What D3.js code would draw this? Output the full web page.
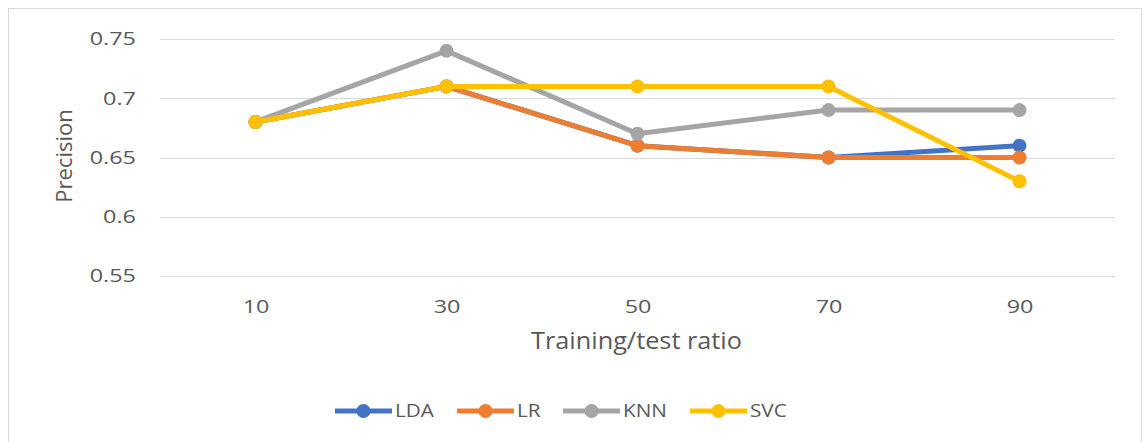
<!DOCTYPE html>
<html>
<head>
<meta charset="utf-8">
<script src="https://cdn.jsdelivr.net/npm/d3@7"></script>
<style>
  html, body { margin: 0; padding: 0; background: #fff; }
  svg { display: block; font-family: "Open Sans", "Noto Sans", sans-serif; }
</style>
</head>
<body>
<svg id="chart" width="1148" height="442"></svg>
<script>
// Training/test split ratios on the x axis
const ratios = ["10", "30", "50", "70", "90"];
// Precision per classifier
const lda = [0.68, 0.71, 0.66, 0.65, 0.66];
const lr  = [0.68, 0.71, 0.66, 0.65, 0.65];
const knn = [0.68, 0.74, 0.67, 0.69, 0.69];
const svc = [0.68, 0.71, 0.71, 0.71, 0.63];
const seriesNames = ["LDA", "LR", "KNN", "SVC"];
const yTicks = [0.55, 0.6, 0.65, 0.7, 0.75];

const series = [
  { name: "LDA", values: lda, color: "#4472C4" },
  { name: "LR",  values: lr,  color: "#ED7D31" },
  { name: "KNN", values: knn, color: "#A5A5A5" },
  { name: "SVC", values: svc, color: "#FFC000" }
];

const svg = d3.select("#chart");
const textColor = "#595959";
const font = "'Open Sans', 'Noto Sans', sans-serif";

// chart area frame
svg.append("rect")
  .attr("x", 8.5).attr("y", 8.5)
  .attr("width", 1133).attr("height", 440)
  .attr("fill", "#fff").attr("stroke", "#d9d9d9").attr("stroke-width", 1);

const plot = { left: 160, right: 1115, top: 39, bottom: 276 };

const x = d3.scalePoint().domain(ratios).range([plot.left, plot.right]).padding(0.5);
const y = d3.scaleLinear().domain([0.55, 0.75]).range([plot.bottom, plot.top]);

// horizontal gridlines
svg.append("g")
  .selectAll("line")
  .data(yTicks)
  .join("line")
  .attr("x1", plot.left).attr("x2", plot.right)
  .attr("y1", d => Math.round(y(d)) + 0.5).attr("y2", d => Math.round(y(d)) + 0.5)
  .attr("stroke", "#d9d9d9").attr("stroke-width", 1);

// y axis labels (slightly widened glyphs)
const yAxis = d3.axisLeft(y).tickValues(yTicks).tickSize(0).tickPadding(0)
  .tickFormat(d => String(+d.toFixed(2)));
const gy = svg.append("g").attr("transform", `translate(${plot.left - 24},0)`).call(yAxis);
gy.select(".domain").remove();
gy.selectAll("text")
  .attr("fill", textColor).attr("font-size", 18)
  .attr("font-family", font)
  .attr("transform", "scale(1.3,1)");

// x axis labels
const xAxis = d3.axisBottom(x).tickSize(0).tickPadding(0);
const gx = svg.append("g").attr("transform", `translate(0,300)`).call(xAxis);
gx.select(".domain").remove();
gx.selectAll("text")
  .attr("fill", textColor).attr("font-size", 18)
  .attr("font-family", font)
  .attr("transform", "scale(1.3,1)");

// axis titles
svg.append("text")
  .attr("transform", `translate(72,156) rotate(-90)`)
  .attr("text-anchor", "middle")
  .attr("fill", textColor).attr("font-size", 22)
  .text("Precision");

svg.append("text")
  .attr("transform", `translate(${(plot.left + plot.right) / 2 - 1},349) scale(1.1,1)`)
  .attr("text-anchor", "middle")
  .attr("fill", textColor).attr("font-size", 23)
  .text("Training/test ratio");

// lines and markers
const line = d3.line()
  .x((d, i) => x(ratios[i]))
  .y(d => y(d));

const sg = svg.append("g").selectAll("g").data(series).join("g");
sg.append("path")
  .attr("d", d => line(d.values))
  .attr("fill", "none")
  .attr("stroke", d => d.color)
  .attr("stroke-width", 5)
  .attr("stroke-linejoin", "round")
  .attr("stroke-linecap", "round");
sg.selectAll("circle")
  .data(d => d.values.map((v, i) => ({ v, i, color: d.color })))
  .join("circle")
  .attr("cx", d => x(ratios[d.i]))
  .attr("cy", d => y(d.v))
  .attr("r", 7)
  .attr("fill", d => d.color);

// legend
const legendX = [335, 457, 563, 690];
const legendY = 411;
const lg = svg.append("g").selectAll("g").data(series).join("g")
  .attr("transform", (d, i) => `translate(${legendX[i]},${legendY})`);
lg.append("line")
  .attr("x1", 0).attr("x2", 57).attr("y1", 0).attr("y2", 0)
  .attr("stroke", d => d.color).attr("stroke-width", 5);
lg.append("circle")
  .attr("cx", 28.5).attr("cy", 0).attr("r", 7)
  .attr("fill", d => d.color);
lg.append("text")
  .attr("transform", "translate(60,0) scale(1.15,1)")
  .attr("dy", "0.36em")
  .attr("fill", textColor).attr("font-size", 18)
  .text((d, i) => seriesNames[i]);
</script>
</body>
</html>
